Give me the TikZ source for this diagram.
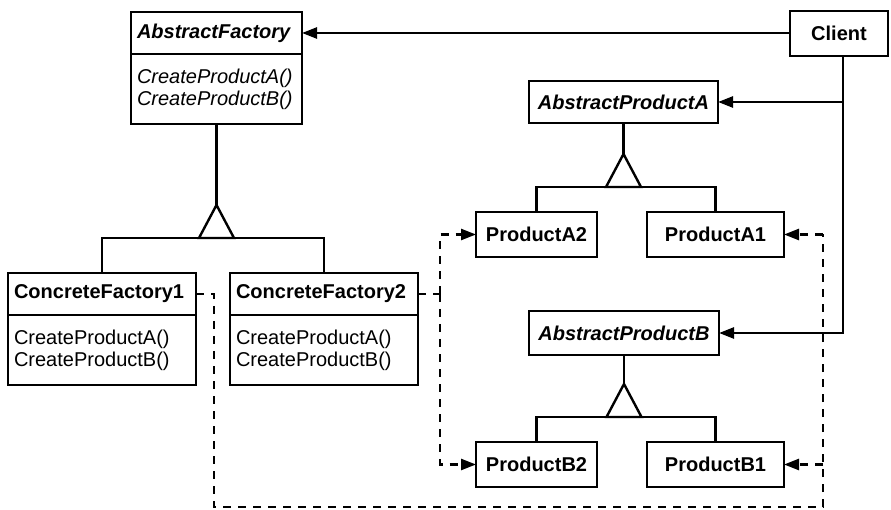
\documentclass[tikz,border=0pt]{standalone}
\usepackage{fontspec}
\setmainfont{Liberation Sans}
\usepackage{tikz}
\usetikzlibrary{arrows.meta,positioning,calc}

\begin{document}
\begin{tikzpicture}[x=1pt,y=-1pt,line width=2.4pt,
  every node/.style={font=\fontsize{20}{22}\selectfont,outer sep=0pt},
  head/.style={draw,anchor=north west,minimum height=42pt,inner xsep=0pt,inner ysep=0pt,align=left},
  ops/.style={draw,minimum height=70pt,inner xsep=0pt,inner ysep=0pt,align=left},
  cbox/.style={draw,anchor=north west,minimum height=45pt,inner sep=0pt},
  arr/.style={-{Triangle[length=15pt,width=11pt]}},
  dep/.style={dash pattern=on 8pt off 7pt},
  abs/.style={font=\fontsize{20}{22}\selectfont\bfseries\itshape}]
\useasboundingbox (0,0) rectangle (891,510);
\node [head,abs,minimum width=171pt,text width=159pt] (af) at (131,12) {AbstractFactory};
\node [ops,minimum width=171pt,text width=159pt,font=\fontsize{20}{22}\selectfont\itshape,below=0pt of af] (afops) {CreateProductA()\\CreateProductB()};
\node [head,minimum width=188pt,text width=176pt,font=\fontsize{20}{22}\selectfont\bfseries] (cf1) at (8,273) {ConcreteFactory1};
\node [ops,minimum width=188pt,text width=176pt,below=0pt of cf1] (cf1ops) {CreateProductA()\\CreateProductB()};
\node [head,minimum width=188pt,text width=176pt,font=\fontsize{20}{22}\selectfont\bfseries] (cf2) at (230,273) {ConcreteFactory2};
\node [ops,minimum width=188pt,text width=176pt,below=0pt of cf2] (cf2ops) {CreateProductA()\\CreateProductB()};
\node [cbox,minimum width=98pt,font=\fontsize{20}{22}\selectfont\bfseries] (client) at (790,11) {Client};
\node [cbox,abs,minimum width=189pt,minimum height=42pt] (apa) at (529,81) {AbstractProductA};
\node [cbox,minimum width=121pt,font=\fontsize{20}{22}\selectfont\bfseries] (pa2) at (476,212) {ProductA2};
\node [cbox,minimum width=137pt,font=\fontsize{20}{22}\selectfont\bfseries] (pa1) at (647,212) {ProductA1};
\node [cbox,abs,minimum width=190pt,minimum height=44pt] (apb) at (529,311) {AbstractProductB};
\node [cbox,minimum width=121pt,font=\fontsize{20}{22}\selectfont\bfseries] (pb2) at (476,442) {ProductB2};
\node [cbox,minimum width=137pt,font=\fontsize{20}{22}\selectfont\bfseries] (pb1) at (647,442) {ProductB1};
\coordinate (ta) at (afops.south |- 0,205);
\coordinate (tb) at (apa.south |- 0,154);
\coordinate (tc) at (apb.south |- 0,384);
\draw (afops.south) -- (ta);
\draw (ta) -- ++(-17.5,33) -- ++(35,0) -- cycle;
\draw (cf1.north) |- ($(ta)+(0,33)$) -| (cf2.north);
\draw (apa.south) -- (tb);
\draw (tb) -- ++(-17.5,33) -- ++(35,0) -- cycle;
\draw (pa2.north) |- ($(tb)+(0,33)$) -| (pa1.north);
\draw (apb.south) -- (tc);
\draw (tc) -- ++(-17.5,33) -- ++(35,0) -- cycle;
\draw (pb2.north) |- ($(tc)+(0,33)$) -| (pb1.north);
\coordinate (k) at ($(client.south)+(4,0)$);
\draw [arr] (client.west |- af.east) -- (af.east);
\draw [arr] (k) |- (apb.east);
\draw [arr] (k |- apa.east) -- (apa.east);
\coordinate (c1) at (cf1.east -| 214,0);
\coordinate (c2) at (214,507);
\coordinate (c3) at (823,507);
\coordinate (c4) at (pa1.east -| 823,0);
\draw [dep] (cf1.east) -- (c1) -- (c2) -- (c3) -- (c4);
\draw [dep,arr] (c4) -- (pa1.east);
\draw [dep,arr] (c3 |- pb1.east) -- (pb1.east);
\coordinate (e1) at (cf2.east -| 440,0);
\coordinate (e2) at (pa2.west -| 440,0);
\coordinate (e3) at (pb2.west -| 440,0);
\draw [dep] (cf2.east) -- (e1);
\draw [dep,arr] (e1) -- (e2) -- (pa2.west);
\draw [dep,arr] (e1) -- (e3) -- (pb2.west);
\end{tikzpicture}
\end{document}
